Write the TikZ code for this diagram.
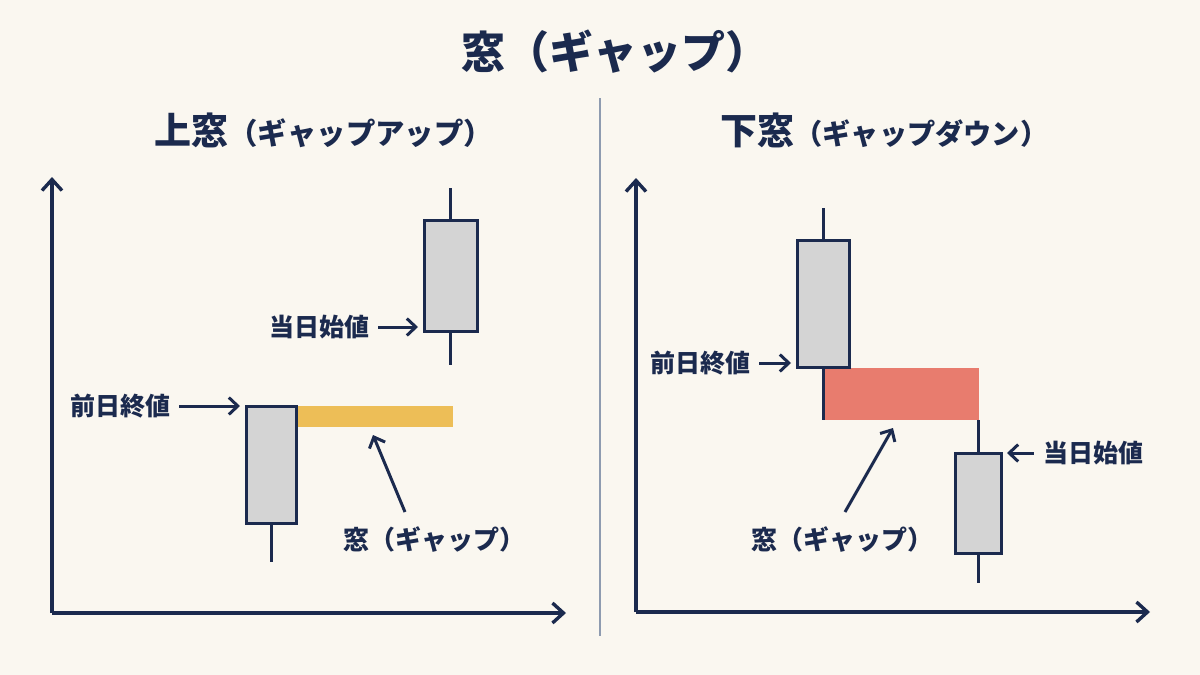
\documentclass[tikz,border=0pt]{standalone}
\usepackage{fontspec}
\setmainfont{Noto Sans CJK JP}
\usetikzlibrary{arrows.meta,calc}
\definecolor{navy}{HTML}{1B2A4E}
\definecolor{bg}{HTML}{FAF7F0}
\definecolor{candlefill}{HTML}{D4D4D4}
\definecolor{gapyellow}{HTML}{EDBE57}
\definecolor{gapred}{HTML}{E87C6E}
\definecolor{divider}{HTML}{8E9BB0}
\tikzset{
  axis/.style={draw=navy, line width=1.7pt, -{Straight Barb[length=5.5pt,width=10pt,line width=1.7pt]}},
  candle/.style={draw=navy, line width=1.5pt, fill=candlefill, rectangle, inner sep=0pt, outer sep=0pt},
  wick/.style={draw=navy, line width=1.5pt},
  pointer/.style={draw=navy, line width=1.5pt, -{Straight Barb[length=4.5pt,width=8.5pt,line width=1.5pt]}, shorten >=3pt},
  lbl/.style={text=navy, font=\bfseries\fontsize{12.5pt}{14pt}\selectfont, inner sep=2pt},
  gaplbl/.style={text=navy, font=\bfseries\fontsize{13pt}{15pt}\selectfont, inner sep=2pt},
  gapbox/.style={rectangle, inner sep=0pt, outer sep=0pt, draw=none},
}
\begin{document}
\begin{tikzpicture}[x=0.5pt,y=-0.5pt]
\fill[bg] (0,0) rectangle (1200,675);
\useasboundingbox (0,0) rectangle (1200,675);

% title
\node[text=navy, font=\bfseries\fontsize{22pt}{26pt}\selectfont] (title) at (615,52) {窓（ギャップ）};

% divider
\coordinate (dtop) at (600,98);
\coordinate (dbot) at (600,636);
\draw[divider, line width=1pt] (dtop) -- (dbot);

% ===== Left panel =====
\node[anchor=west, text=navy, font=\bfseries, inner sep=0pt] (ltitle) at (154,130)
  {{\fontsize{18.5pt}{22pt}\selectfont 上窓}{\fontsize{14.7pt}{17pt}\selectfont （ギャップアップ）}};

\coordinate (lo) at (52,613);
\coordinate (ly) at (52,177);
\coordinate (lx) at (566,613);
\draw[axis] (lo) -- (ly);
\draw[axis] (lo) -- (lx);

% gap bar
\node[gapbox, fill=gapyellow, minimum width=78.5pt, minimum height=10.5pt] (gapU) at (374.5,416.5) {};

% previous candle
\node[candle, minimum width=25pt, minimum height=58.5pt] (c1) at (271,464.5) {};
\coordinate (c1w) at (271,562);
\draw[wick] (c1.south) -- (c1w);

% current candle
\node[candle, minimum width=26.5pt, minimum height=55.5pt] (c2) at (450.5,275.5) {};
\coordinate (c2t) at (450.5,188);
\coordinate (c2b) at (450.5,365);
\draw[wick] (c2.north) -- (c2t);
\draw[wick] (c2.south) -- (c2b);

% labels
\node[lbl] (lprev) at (120,406) {前日終値};
\draw[pointer] ($(lprev.east)+(5,0)$) -- (lprev.east -| c1.west);

\node[lbl] (lcur) at (319,327) {当日始値};
\draw[pointer] ($(lcur.east)+(5,0)$) -- (lcur.east -| c2.west);

\node[gaplbl] (lgap) at (434,540) {窓（ギャップ）};
\coordinate (lgs) at (405,512);
\coordinate (lgt) at (373,435);
\draw[pointer, shorten >=0pt] (lgs) -- (lgt);

% ===== Right panel =====
\node[anchor=west, text=navy, font=\bfseries, inner sep=0pt] (rtitle) at (720,130)
  {{\fontsize{18.5pt}{22pt}\selectfont 下窓}{\fontsize{14.1pt}{17pt}\selectfont （ギャップダウン）}};

\coordinate (ro) at (636,612);
\coordinate (ry) at (636,178);
\coordinate (rx) at (1150,612);
\draw[axis] (ro) -- (ry);
\draw[axis] (ro) -- (rx);

% gap box
\node[gapbox, fill=gapred, minimum width=78pt, minimum height=26pt] (gapD) at (901,394) {};

% previous candle
\node[candle, minimum width=26pt, minimum height=63.5pt] (d1) at (823,303.5) {};
\coordinate (d1t) at (823,208);
\draw[wick] (d1.north) -- (d1t);
\draw[wick] (d1.south) -- (d1.south |- gapD.south);

% current candle
\node[candle, minimum width=23pt, minimum height=50pt] (d2) at (978,503) {};
\coordinate (d2b) at (978,583);
\draw[wick] (d2.north) -- (d2.north |- gapD.south);
\draw[wick] (d2.south) -- (d2b);

% labels
\node[lbl] (rprev) at (700,363) {前日終値};
\draw[pointer] ($(rprev.east)+(5,0)$) -- (rprev.east -| d1.west);

\node[lbl] (rcur) at (1093,453) {当日始値};
\draw[pointer] ($(rcur.west)+(-5,0)$) -- (rcur.west -| d2.east);

\node[gaplbl] (rgap) at (842,540) {窓（ギャップ）};
\coordinate (rgs) at (845,512);
\coordinate (rgt) at (893,428);
\draw[pointer, shorten >=0pt] (rgs) -- (rgt);
\end{tikzpicture}
\end{document}
